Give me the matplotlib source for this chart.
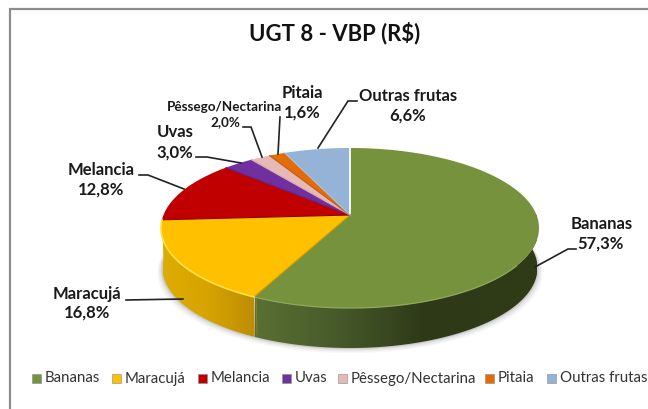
import numpy as np
import matplotlib
matplotlib.use("Agg")
import matplotlib.pyplot as plt
from matplotlib.patches import Polygon, Rectangle

plt.rcParams["font.family"] = ["Lato", "DejaVu Sans"]

# chart data
categories = ["Bananas", "Maracujá", "Melancia", "Uvas", "Pêssego/Nectarina", "Pitaia", "Outras frutas"]
shares = [57.3, 16.8, 12.8, 3.0, 2.0, 1.6, 6.6]
share_labels = ["57,3%", "16,8%", "12,8%", "3,0%", "2,0%", "1,6%", "6,6%"]
colors = ["#76923C", "#FFC000", "#C00000", "#7030A0", "#E6B9B8", "#E36C09", "#95B3D7"]

# pie geometry, in picture pixels
apex_x, apex_y = 350, 215
k = 0.1625
rad_x, rad_y = 186.5, 77.9
depth = 40


def rim(theta, scale=1.0, drop=0.0):
    # theta is clockwise from the top, tilted circle with perspective
    w = 1 + k * np.cos(theta)
    x = apex_x + scale * rad_x * np.sin(theta) / w
    y = apex_y - rad_y * np.cos(theta) / w + drop
    return x, y


def side_patch(t0, t1):
    t = np.linspace(t0, t1, 120)
    x0, y0 = rim(t)
    x1, y1 = rim(t[::-1], 0.992, depth)
    return np.column_stack([np.r_[x0, x1], np.r_[y0, y1]])


def hex_rgb(c):
    return np.array(matplotlib.colors.to_rgb(c))


fig = plt.figure(figsize=(6.48, 4.09), dpi=100)
ax = fig.add_axes([0, 0, 1, 1])
ax.set_xlim(0, 648)
ax.set_ylim(409, 0)
ax.axis("off")

# chart frame, only left and top survive the crop
ax.plot([10, 10, 648], [409, 8.5, 8.5], color="#8c8c8c", lw=1.6, solid_joinstyle="miter")

edges = np.r_[0, np.cumsum(shares)] / sum(shares) * 2 * np.pi

# soft shadow under the pie
t = np.linspace(np.pi * 0.45, np.pi * 1.55, 160)
for grow, alpha in [(5, 0.05), (3.5, 0.07), (2, 0.09), (1, 0.12)]:
    x, y = rim(t, 0.992 + grow / 186, depth + grow)
    ax.fill(np.r_[x, apex_x], np.r_[y, apex_y], color="#555555", alpha=alpha, lw=0, zorder=1)

# side wall with horizontal gradients
walls = [
    (np.pi / 2 - 0.12, edges[1], 255, 537, [(0.0, "#5A7033"), (0.3, "#46592A"), (0.6, "#2E3A17"), (1.0, "#303B18")]),
    (edges[1], edges[2], 163, 256, [(0.0, "#DFAC00"), (0.5, "#D6A300"), (1.0, "#BC8C06")]),
]
for t0, t1, x_left, x_right, stops in walls:
    pos = np.linspace(0, 1, 256)
    rgb = np.column_stack([
        np.interp(pos, [s[0] for s in stops], [hex_rgb(s[1])[i] for s in stops]) for i in range(3)
    ])
    im = ax.imshow(rgb[np.newaxis, :, :], extent=[x_left, x_right, 350, 215], aspect="auto", zorder=2)
    clip = Polygon(side_patch(t0, t1), closed=True, transform=ax.transData)
    im.set_clip_path(clip)
ax.set_xlim(0, 648)
ax.set_ylim(409, 0)

# seam between the two visible walls
sx, sy = rim(edges[1])
ax.plot([sx + 2, sx + 3], [sy, sy + 38], color="#A88A20", lw=0.7, alpha=0.6, zorder=3)

# top faces
for i, color in enumerate(colors):
    t = np.linspace(edges[i], edges[i + 1], 160)
    x, y = rim(t)
    ax.fill(np.r_[apex_x, x], np.r_[apex_y, y], color=color, lw=0, zorder=4)

# slice separators and rim light
sep_colors = ["#FFFFFF", "#D29A00", "#8E0000", "#5A2680", "#D8A8A8", "#C55A08", "#A8C2E0"]
for i, color in enumerate(sep_colors):
    x, y = rim(edges[i])
    ax.plot([apex_x, x], [apex_y, y], color=color, lw=1.3 if i == 0 else 0.8, zorder=5)
t = np.linspace(edges[0] + 2.2, edges[1], 80)
ax.plot(*rim(t), color="#8FA85A", lw=0.9, zorder=5)
t = np.linspace(edges[1], edges[2], 60)
ax.plot(*rim(t), color="#FFE04A", lw=1.2, zorder=5)

# leader lines
leaders = [
    ([576, 568, 535], [249, 249, 267]),
    ([126, 183], [300, 299]),
    ([139, 148, 184], [175, 175, 189]),
    ([196, 207, 241], [157, 157, 163]),
    ([243, 251, 262], [127, 127, 157]),
    ([280, 278], [117, 154]),
    ([357, 348, 318], [101, 101, 148]),
]
for lx, ly in leaders:
    ax.plot(lx, ly, color="#222222", lw=1.2, zorder=6, solid_joinstyle="miter")

# data labels
name_pos = [(602, 224), (87, 294), (101, 170), (175, 132), (224, 107), (302, 93), (408, 96)]
value_pos = [(600, 244), (87, 313), (101, 190), (175, 153), (225, 122), (302, 113), (408, 116)]
for i, name in enumerate(categories):
    size = 9.7 if name.startswith("Pêssego") else 12
    ax.text(*name_pos[i], name, ha="center", va="center", fontsize=size, fontweight="bold", color="#1a1a1a", zorder=7)
    ax.text(*value_pos[i], share_labels[i], ha="center", va="center", fontsize=size, fontweight="bold", color="#1a1a1a", zorder=7)

ax.text(335, 33, "UGT 8 - VBP (R$)", ha="center", va="center", fontsize=15.9, fontweight="bold", color="#111111")

# legend
key_x = [32, 112, 198, 282, 338, 485, 547]
for x, name, color in zip(key_x, categories, colors):
    ax.add_patch(Rectangle((x, 374), 9, 9, facecolor=color, edgecolor="#888888", lw=0.4, zorder=6))
    ax.text(x + 13, 378.5, name, ha="left", va="center", fontsize=10.8, color="#333333", zorder=7)

fig.savefig("out.png", dpi=100)
